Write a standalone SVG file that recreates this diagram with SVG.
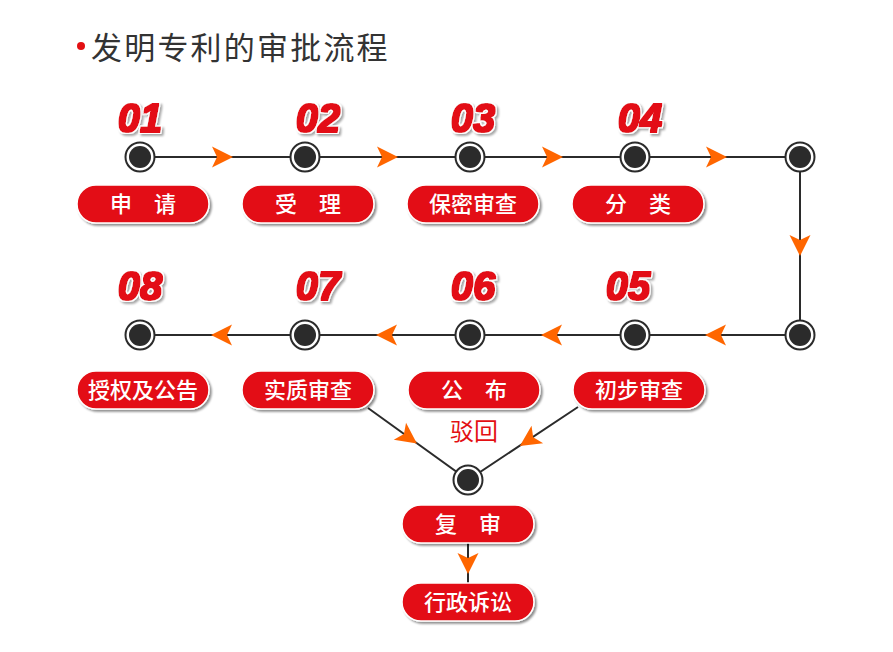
<svg xmlns="http://www.w3.org/2000/svg" width="893" height="652" viewBox="0 0 893 652">
<defs>
<filter id="sh" x="-20%" y="-30%" width="140%" height="170%">
<feDropShadow dx="2" dy="2" stdDeviation="1.2" flood-color="#000" flood-opacity="0.45"/>
</filter>
<filter id="numf" x="-30%" y="-30%" width="160%" height="170%">
<feMorphology in="SourceGraphic" operator="dilate" radius="0.6" result="red"/>
<feMorphology in="SourceAlpha" operator="dilate" radius="2" result="outA"/>
<feFlood flood-color="#fff" result="w"/>
<feComposite in="w" in2="outA" operator="in" result="white"/>
<feOffset in="outA" dx="1.5" dy="2" result="offA"/>
<feGaussianBlur in="offA" stdDeviation="1" result="blurA"/>
<feFlood flood-color="#000" flood-opacity="0.35" result="g"/>
<feComposite in="g" in2="blurA" operator="in" result="shadow"/>
<feMerge><feMergeNode in="shadow"/><feMergeNode in="white"/><feMergeNode in="red"/></feMerge>
</filter>
<g id="arR"><path d="M-10,-10.5 L11,0 L-10,10.5 L-5,0 Z" fill="#ff6600"/></g>
<g id="node"><circle r="14.5" fill="#fff" stroke="#2b2b2b" stroke-width="2"/><circle r="11" fill="#2b2b2b"/></g>
</defs>
<style>
.ln{stroke:#2b2b2b;stroke-width:2;fill:none}
.pill{fill:#e31013;stroke:#fff;stroke-width:1.5;filter:url(#sh)}
.pt{font-family:"Noto Sans CJK SC","Noto Sans",sans-serif;font-size:22px;font-weight:500;fill:#fff;text-anchor:middle}
.num{font-family:"Liberation Sans",Arial,sans-serif;font-size:40px;font-weight:bold;font-style:italic;fill:#e31013;text-anchor:middle;filter:url(#numf)}
</style>
<rect width="893" height="652" fill="#fff"/>
<g id="title">
<circle cx="81" cy="46" r="4" fill="#e31013"/>
<text x="91" y="59" font-family="Noto Sans CJK SC,sans-serif" font-size="31" letter-spacing="2.2" fill="#333">发明专利的审批流程</text>
</g>
<g id="connectors">
<path class="ln" d="M140,157 H800 V335 H140"/>
<path class="ln" d="M368,408 L468,480 L578,407"/>
<path class="ln" d="M468,543 V583"/>
<use href="#arR" transform="translate(222,157)"/>
<use href="#arR" transform="translate(387,157)"/>
<use href="#arR" transform="translate(552,157)"/>
<use href="#arR" transform="translate(716,157)"/>
<use href="#arR" transform="translate(800,245) rotate(90)"/>
<use href="#arR" transform="translate(716,335) rotate(180)"/>
<use href="#arR" transform="translate(552,335) rotate(180)"/>
<use href="#arR" transform="translate(387,335) rotate(180)"/>
<use href="#arR" transform="translate(222,335) rotate(180)"/>
<use href="#arR" transform="translate(408,437) rotate(35.8)"/>
<use href="#arR" transform="translate(529,440) rotate(146.4)"/>
<use href="#arR" transform="translate(468,563) rotate(90)"/>
</g>
<g id="n01"><use href="#node" x="140" y="157"/><text class="num" x="140" y="132">01</text><rect class="pill" x="77" y="185" width="132" height="38" rx="19"/><text class="pt" x="143" y="212">申　请</text></g>
<g id="n02"><use href="#node" x="305" y="157"/><text class="num" x="318" y="132">02</text><rect class="pill" x="242" y="185" width="132" height="38" rx="19"/><text class="pt" x="308" y="212">受　理</text></g>
<g id="n03"><use href="#node" x="470" y="157"/><text class="num" x="473" y="132">03</text><rect class="pill" x="407" y="185" width="132" height="38" rx="19"/><text class="pt" x="473" y="212">保密审查</text></g>
<g id="n04"><use href="#node" x="635" y="157"/><text class="num" x="640" y="132">04</text><rect class="pill" x="572" y="185" width="132" height="38" rx="19"/><text class="pt" x="638" y="212">分　类</text></g>
<g id="corner1"><use href="#node" x="800" y="157"/></g>
<g id="corner2"><use href="#node" x="800" y="335"/></g>
<g id="n05"><use href="#node" x="635" y="335"/><text class="num" x="628" y="300">05</text><rect class="pill" x="573" y="371" width="132" height="38" rx="19"/><text class="pt" x="639" y="398">初步审查</text></g>
<g id="n06"><use href="#node" x="470" y="335"/><text class="num" x="473" y="300">06</text><rect class="pill" x="408" y="371" width="132" height="38" rx="19"/><text class="pt" x="474" y="398">公　布</text></g>
<g id="n07"><use href="#node" x="305" y="335"/><text class="num" x="318" y="300">07</text><rect class="pill" x="242" y="371" width="132" height="38" rx="19"/><text class="pt" x="308" y="398">实质审查</text></g>
<g id="n08"><use href="#node" x="140" y="335"/><text class="num" x="140" y="300">08</text><rect class="pill" x="77" y="371" width="132" height="38" rx="19"/><text class="pt" x="143" y="398">授权及公告</text></g>
<g id="reject"><text x="474" y="440" font-family="Noto Sans CJK SC,sans-serif" font-size="24" fill="#e31013" text-anchor="middle">驳回</text></g>
<g id="n09"><use href="#node" x="468" y="480"/><rect class="pill" x="402" y="505" width="132" height="38" rx="19"/><text class="pt" x="468" y="532">复　审</text></g>
<g id="n10"><rect class="pill" x="402" y="583" width="132" height="38" rx="19"/><text class="pt" x="468" y="610">行政诉讼</text></g>
</svg>
